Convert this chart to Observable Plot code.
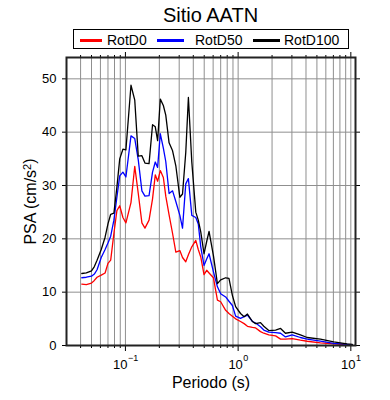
<!DOCTYPE html>
<html>
<head>
<meta charset="utf-8">
<script src="https://cdn.jsdelivr.net/npm/d3@7"></script>
<script src="https://cdn.jsdelivr.net/npm/@observablehq/plot@0.6"></script>
<style>
  body { margin: 0; background: #fff; font-family: "Liberation Sans", Arial, Helvetica, sans-serif; color: #000; }
  #wrap { position: relative; width: 390px; height: 400px; overflow: hidden; }
  #title { position: absolute; left: 0; top: 5px; width: 421px; text-align: center; font-size: 20px; line-height: 20px; }
  #legendBox { position: absolute; left: 73px; top: 29px; width: 276px; height: 20px; border: 1.5px solid #000; box-sizing: border-box; }
  .lgLine { position: absolute; height: 3px; top: 39px; }
  .lgText { position: absolute; top: 32.5px; font-size: 14px; line-height: 14px; white-space: nowrap; }
  #chart { position: absolute; left: 0; top: 50px; }
</style>
</head>
<body>
<div id="wrap">
  <div id="title"></div>
  <div id="legendBox"></div>
  <div id="legendItems"></div>
  <div id="chart"></div>
</div>
<script>
// ---- data ----
const titleText = "Sitio AATN";
const seriesNames = ["RotD0", "RotD50", "RotD100"];
const seriesColors = ["#ff0000", "#0000ff", "#000000"];

const periods = [
  0.041, 0.045, 0.050, 0.053, 0.056, 0.061, 0.066, 0.070, 0.074, 0.079,
  0.084, 0.089, 0.095, 0.101, 0.112, 0.121, 0.130, 0.140, 0.149, 0.162,
  0.174, 0.184, 0.193, 0.204, 0.217, 0.228, 0.244, 0.262, 0.280, 0.304,
  0.321, 0.343, 0.362, 0.388, 0.421, 0.443, 0.466, 0.498, 0.526, 0.552,
  0.604, 0.655, 0.700, 0.775, 0.829, 0.889, 0.950, 1.05, 1.13, 1.21,
  1.34, 1.43, 1.58, 1.69, 1.87, 2.15, 2.38, 2.63, 3.02, 3.57,
  4.10, 5.37, 7.05, 9.25, 10.3
];
const rotD0 = [
  11.5, 11.4, 11.7, 12.2, 12.8, 13.2, 13.6, 15.4, 16.0, 21.0,
  25.3, 26.2, 24.0, 23.0, 26.8, 33.6, 28.5, 23.0, 22.0, 23.5,
  27.5, 32.0, 30.8, 32.8, 31.5, 28.0, 24.5, 21.0, 17.5, 17.8,
  16.5, 15.7, 17.0, 18.5, 19.7, 18.0, 16.6, 13.3, 14.1, 13.6,
  12.7, 8.5, 8.2, 6.6, 6.0, 5.5, 5.0, 4.5, 4.1, 3.6,
  3.4, 3.3, 2.6, 2.3, 2.0, 1.8, 1.2, 1.2, 1.3, 1.0,
  0.8, 0.5, 0.3, 0.15, 0.1
];
const rotD50 = [
  12.7, 12.8, 13.0, 13.4, 14.2, 16.5, 18.0, 19.2, 20.5, 23.5,
  27.8, 31.8, 32.5, 31.6, 39.3, 38.8, 34.8, 29.0, 28.0, 28.1,
  32.5, 34.4, 33.4, 39.7, 37.0, 34.5, 28.5, 29.0, 27.0, 24.4,
  22.0, 30.3, 31.3, 24.4, 24.0, 22.8, 18.5, 15.0, 16.2, 17.2,
  13.8, 11.0, 9.7, 9.1, 8.3, 7.5, 5.5, 5.1, 5.4, 5.7,
  4.5, 4.2, 3.5, 2.9, 2.5, 2.4, 2.3, 1.6, 2.0, 1.5,
  1.2, 0.8, 0.4, 0.2, 0.1
];
const rotD100 = [
  13.5, 13.6, 14.0, 14.8, 16.0, 18.0, 20.3, 22.8, 24.6, 24.8,
  29.7, 35.0, 36.8, 36.7, 48.8, 46.0, 35.5, 35.6, 34.2, 34.1,
  41.4, 41.0, 38.4, 46.2, 45.0, 43.2, 38.0, 36.5, 33.7, 27.8,
  28.4, 36.2, 46.5, 34.4, 25.0, 23.5, 21.3, 17.2, 19.5, 21.4,
  16.8, 11.6, 12.3, 12.7, 12.6, 9.4, 7.3, 6.0, 5.4, 5.9,
  4.5, 4.1, 4.3, 3.6, 2.8, 2.9, 3.2, 2.3, 2.5, 2.0,
  1.5, 1.2, 0.7, 0.3, 0.2
];

const yTicks = [0, 10, 20, 30, 40, 50];
const yGrid = [10, 20, 30, 40, 50];
const xMajor = [0.1, 1, 10];
const xExp = ["\u22121", "0", "1"];
const xMinor = [0.04, 0.05, 0.06, 0.07, 0.08, 0.09,
                0.2, 0.3, 0.4, 0.5, 0.6, 0.7, 0.8, 0.9,
                2, 3, 4, 5, 6, 7, 8, 9];
const xLabel = "Periodo (s)";
const yLabelMain = "PSA (cm/s";
const yLabelSup = "2";
const yLabelEnd = ")";

// ---- title & legend (HTML, above the SVG) ----
document.getElementById("title").textContent = titleText;
const legendLayout = [
  {lineLeft: 80, lineWidth: 22, textLeft: 107},
  {lineLeft: 157, lineWidth: 27, textLeft: 195},
  {lineLeft: 253, lineWidth: 27, textLeft: 284}
];
const li = document.getElementById("legendItems");
seriesNames.forEach((name, i) => {
  const l = document.createElement("div");
  l.className = "lgLine";
  l.style.left = legendLayout[i].lineLeft + "px";
  l.style.width = legendLayout[i].lineWidth + "px";
  l.style.background = seriesColors[i];
  li.appendChild(l);
  const t = document.createElement("div");
  t.className = "lgText";
  t.style.left = legendLayout[i].textLeft + "px";
  t.textContent = name;
  li.appendChild(t);
});

// ---- long-format table for Plot ----
const series = [rotD0, rotD50, rotD100];
const data = [];
series.forEach((vals, s) => {
  periods.forEach((p, i) => data.push({period: p, psa: vals[i], series: seriesNames[s]}));
});

const allX = xMinor.concat(xMajor);

// superscript tick labels: "10" + exponent
const labelMarks = [];
const f10 = 13, fSup = 9;
xMajor.forEach((m, i) => {
  const w10 = 2 * 0.556 * f10;
  const wSup = (xExp[i].length === 2 ? (0.584 + 0.556) : 0.556) * fSup;
  const total = w10 + wSup;
  const endX = total / 2 - wSup;
  labelMarks.push(Plot.text([m], {x: d => d, frameAnchor: "bottom", dy: 19, dx: endX,
    text: () => "10", textAnchor: "end", lineAnchor: "middle", fontSize: f10, fill: "#000"}));
  labelMarks.push(Plot.text([m], {x: d => d, frameAnchor: "bottom", dy: 13, dx: endX + 0.5,
    text: () => xExp[i], textAnchor: "start", lineAnchor: "middle", fontSize: fSup, fill: "#000"}));
});

const chart = Plot.plot({
  width: 390,
  height: 350,
  marginTop: 7,
  marginBottom: 55,
  marginLeft: 66,
  marginRight: 35,
  style: {fontFamily: "'Liberation Sans', Arial, Helvetica, sans-serif", fontSize: "13px", color: "#000", background: "#fff"},
  x: {type: "log", domain: [0.03, 11]},
  y: {domain: [0, 54]},
  color: {domain: seriesNames, range: seriesColors},
  marks: [
    Plot.gridX({ticks: allX, stroke: "#8f8f8f", strokeOpacity: 1, strokeWidth: 1}),
    Plot.gridY({ticks: yGrid, stroke: "#8f8f8f", strokeOpacity: 1, strokeWidth: 1}),
    Plot.line(data, {x: "period", y: "psa", z: "series", stroke: "series", strokeWidth: 1.3}),
    Plot.axisX({anchor: "bottom", ticks: xMinor, tickSize: 3, tickFormat: () => "", label: null, strokeWidth: 1}),
    Plot.axisX({anchor: "bottom", ticks: xMajor, tickSize: 6, tickFormat: () => "", label: null, strokeWidth: 1}),
    Plot.axisX({anchor: "top", ticks: xMinor, tickSize: 3, tickFormat: () => "", label: null, strokeWidth: 1}),
    Plot.axisX({anchor: "top", ticks: xMajor, tickSize: 6, tickFormat: () => "", label: null, strokeWidth: 1}),
    Plot.axisY({anchor: "left", ticks: yTicks, tickSize: 4, tickPadding: 6, fontSize: 13, label: null, strokeWidth: 1}),
    Plot.axisY({anchor: "right", ticks: yTicks, tickSize: 4, tickFormat: () => "", label: null, strokeWidth: 1}),
    ...labelMarks,
    Plot.text([xLabel], {frameAnchor: "bottom", dy: 37, text: d => d, fontSize: 16, lineAnchor: "middle", fill: "#000"}),
    Plot.text([yLabelMain], {frameAnchor: "left", dx: -36, rotate: -90, text: d => d, fontSize: 16, lineAnchor: "middle", textAnchor: "middle", fill: "#000"}),
    Plot.frame({stroke: "#222", strokeWidth: 2})
  ]
});
// add the superscript "2" and closing parenthesis as tspans in the y label
d3.select(chart).selectAll("text").filter(function() { return this.textContent === yLabelMain; }).each(function() {
  const t = d3.select(this);
  t.append("tspan").attr("font-size", 11).attr("dy", "-0.45em").text(yLabelSup);
  t.append("tspan").attr("dy", "0.3em").text(yLabelEnd);
});
document.getElementById("chart").appendChild(chart);
</script>
</body>
</html>
